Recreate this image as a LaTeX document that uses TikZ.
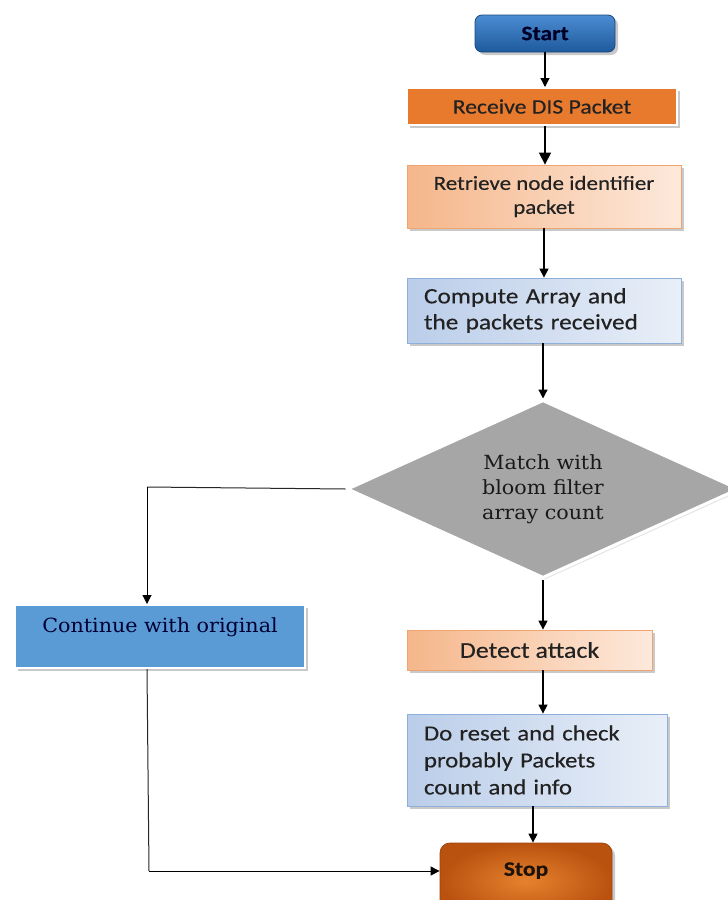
\documentclass[tikz,border=0pt]{standalone}
\usepackage{fontspec}
\setmainfont{Carlito}[FakeStretch=1.15,FakeBold=0.35]
\newfontfamily\slabserif{DejaVu Serif}[FakeStretch=1.06]
\usetikzlibrary{shapes.geometric,shadows,arrows.meta}

\definecolor{startTop}{HTML}{4C8CD2}
\definecolor{startBot}{HTML}{1E5A9C}
\definecolor{recvFill}{HTML}{E87A2E}
\definecolor{peachDark}{HTML}{F5B68A}
\definecolor{peachLight}{HTML}{FDE9DB}
\definecolor{peachEdge}{HTML}{F0A571}
\definecolor{iceDark}{HTML}{BACDE9}
\definecolor{iceLight}{HTML}{E9EFF8}
\definecolor{iceEdge}{HTML}{8EAFD9}
\definecolor{contFill}{HTML}{5B9BD5}
\definecolor{stopIn}{HTML}{E6822E}
\definecolor{stopOut}{HTML}{B9520F}
\definecolor{txt}{HTML}{222222}

\tikzset{
  x=1pt, y=-1pt,
  boxshadow/.style={drop shadow={shadow xshift=3pt, shadow yshift=-3pt, opacity=0.35, fill=black!60}},
  base/.style={rectangle, minimum width=#1, inner sep=0pt, text=txt, boxshadow},
  terminal/.style={rounded corners=7pt, minimum height=37pt, inner sep=0pt, font=\fontsize{20.5}{22}\selectfont\bfseries},
  peach/.style={left color=peachDark, right color=peachLight, draw=peachEdge, line width=0.8pt},
  ice/.style={left color=iceDark, right color=iceLight, draw=iceEdge, line width=0.8pt},
  arr/.style={draw=black, line width=1.3pt, -{Triangle[length=9pt,width=9pt]}},
  link/.style={draw=black!85, line width=1pt},
}

\begin{document}
\begin{tikzpicture}
\clip (0,0) rectangle (728,900);
\fill[white] (0,0) rectangle (728,900);

% terminals
\node[terminal, minimum width=140pt, top color=startTop, bottom color=startBot,
      draw=startBot!80!black, line width=0.8pt, text=black!85!blue, boxshadow] (start) at (545,33.5) {Start};

% process boxes
\node[base=270pt, minimum height=37pt, fill=recvFill, draw=white, line width=2pt,
      font=\fontsize{20.6}{22}\selectfont] (recv) at (542,106.5) {Receive DIS Packet};

\node[base=274pt, minimum height=63pt, peach, align=center,
      font=\fontsize{20}{24}\selectfont] (retr) at (544,196.5) {Retrieve node identifier\\packet};

\node[base=274pt, minimum height=65pt, ice, align=left, text width=240pt,
      font=\fontsize{22}{26}\selectfont] (comp) at (544,310.5) {Compute Array and\\the packets received};

% decision
\node[diamond, minimum width=392pt, minimum height=178pt, inner sep=0pt, aspect=2.2,
      fill=black!35, draw=white, line width=3pt, align=center, text=black!90,
      drop shadow={shadow xshift=2pt, shadow yshift=-2pt, opacity=0.25, fill=black!40},
      font=\slabserif\fontsize{19.5}{25}\selectfont] (dec) at (543,489)
      {Match with\\bloom filter\\array count};

\node[base=290pt, minimum height=63pt, fill=contFill, draw=white, line width=2pt,
      align=center, text=black!80!blue,
      font=\slabserif\fontsize{19.5}{17}\selectfont] (cont) at (160,636.5)
      {Continue with original\\\strut};

\node[base=245pt, minimum height=40pt, peach,
      font=\fontsize{22.6}{24}\selectfont] (det) at (529.5,650) {Detect attack};

\node[base=260pt, minimum height=92pt, ice, align=left, text width=226pt,
      font=\fontsize{21.5}{27}\selectfont] (reset) at (537,760)
      {Do reset and check\\probably Packets\\count and info};

\node[terminal, minimum width=172pt, minimum height=76pt, rounded corners=10pt,
      inner color=stopIn, outer color=stopOut, draw=stopOut!85!black, line width=0.8pt,
      text=black!85!brown, boxshadow, text depth=24pt] (stop) at (526,881) {Stop};

% main flow
\draw[arr] (start.south -| 545,0) -- (recv.north -| 545,0);
\draw[arr, -{Triangle[length=12pt,width=12pt]}] (recv.south -| 545,0) -- (retr.north -| 545,0);
\draw[arr] (retr.south -| 544,0) -- (comp.north -| 544,0);
\draw[arr] (comp.south -| 543,0) -- (dec.north);
\draw[arr] (dec.south) -- (det.north -| 543,0);
\draw[arr] (det.south -| 543,0) -- (reset.north -| 543,0);
\draw[arr] (reset.south -| 533,0) -- (stop.north -| 533,0);

% alternative branch
\coordinate (bendA) at (147,487);
\coordinate (bendB) at (149,871);
\draw[link] (dec.west) -- (bendA);
\draw[arr, line width=1pt] (bendA) -- (cont.north -| bendA);
\draw[link] (cont.south -| bendA) -- (bendB);
\draw[arr, line width=1pt] (bendB) -- (stop.west |- bendB);
\end{tikzpicture}
\end{document}
